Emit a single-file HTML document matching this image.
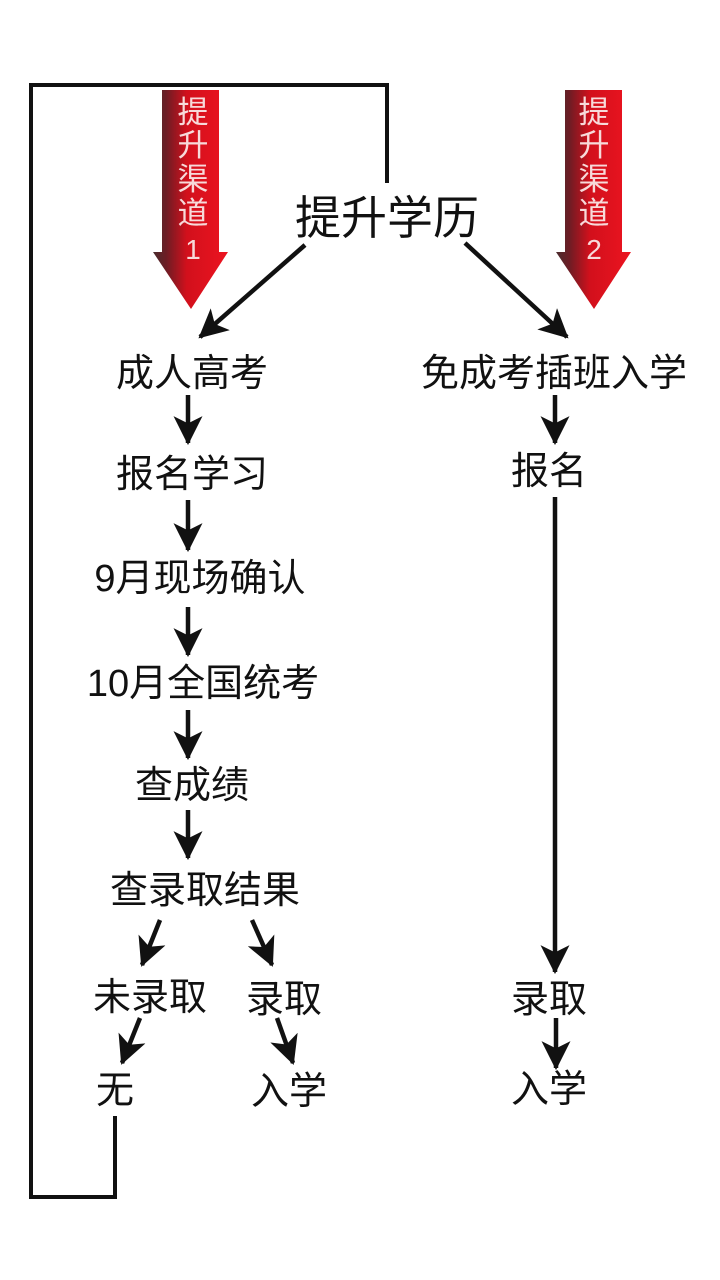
<!DOCTYPE html>
<html>
<head>
<meta charset="utf-8">
<style>
html,body{margin:0;padding:0;background:#fff;}
svg{display:block;}
text{font-family:"Liberation Sans","Noto Sans CJK SC",sans-serif;fill:#111;}
</style>
</head>
<body>
<svg width="720" height="1280" viewBox="0 0 720 1280" xmlns="http://www.w3.org/2000/svg">
  <defs>
    <marker id="ah" viewBox="0 0 28 28" refX="26" refY="14" markerWidth="29" markerHeight="29" markerUnits="userSpaceOnUse" orient="auto">
      <path d="M28,14 L0,0 L7,14 L0,28 Z" fill="#111"/>
    </marker>
    <linearGradient id="rg" x1="0" y1="0" x2="1" y2="0">
      <stop offset="0" stop-color="#4a2c2e"/>
      <stop offset="0.18" stop-color="#6e1c24"/>
      <stop offset="0.45" stop-color="#d2101c"/>
      <stop offset="1" stop-color="#ec1420"/>
    </linearGradient>
  </defs>

  <rect width="720" height="1280" fill="#fff"/>

  <!-- loop lines -->
  <polyline points="387,183 387,85 31,85 31,1197 115,1197 115,1116" fill="none" stroke="#111" stroke-width="4"/>

  <!-- red arrows -->
  <polygon points="162,90 219,90 219,252 228,252 191,309 153,252 162,252" fill="url(#rg)"/>
  <polygon points="565,90 622,90 622,252 631,252 594,309 556,252 565,252" fill="url(#rg)"/>
  <g style="font-size:31px" text-anchor="middle">
    <text x="193" y="123" style="fill:#f7dada">提</text>
    <text x="193" y="156" style="fill:#f7dada">升</text>
    <text x="193" y="190" style="fill:#f7dada">渠</text>
    <text x="193" y="224" style="fill:#f7dada">道</text>
    <text x="193" y="259" style="fill:#f7dada;font-size:28px">1</text>
    <text x="594" y="123" style="fill:#f7dada">提</text>
    <text x="594" y="156" style="fill:#f7dada">升</text>
    <text x="594" y="190" style="fill:#f7dada">渠</text>
    <text x="594" y="224" style="fill:#f7dada">道</text>
    <text x="594" y="259" style="fill:#f7dada;font-size:28px">2</text>
  </g>

  <!-- title -->
  <text x="387" y="234" text-anchor="middle" style="font-size:46px">提升学历</text>

  <!-- labels -->
  <g text-anchor="middle" style="font-size:38px">
    <text x="192" y="386">成人高考</text>
    <text x="554" y="386">免成考插班入学</text>
    <text x="192" y="487">报名学习</text>
    <text x="549" y="484">报名</text>
    <text x="200" y="591">9月现场确认</text>
    <text x="203" y="696">10月全国统考</text>
    <text x="192" y="798">查成绩</text>
    <text x="205" y="903">查录取结果</text>
    <text x="150" y="1010">未录取</text>
    <text x="284" y="1012">录取</text>
    <text x="549" y="1012">录取</text>
    <text x="115" y="1103">无</text>
    <text x="289" y="1104">入学</text>
    <text x="549" y="1102">入学</text>
  </g>

  <!-- connectors -->
  <g stroke="#111" stroke-width="4.5" fill="none" marker-end="url(#ah)">
    <line x1="305" y1="245" x2="200" y2="337"/>
    <line x1="465" y1="243" x2="567" y2="337"/>
    <line x1="188" y1="395" x2="188" y2="443"/>
    <line x1="188" y1="500" x2="188" y2="550"/>
    <line x1="188" y1="607" x2="188" y2="655"/>
    <line x1="188" y1="710" x2="188" y2="758"/>
    <line x1="188" y1="810" x2="188" y2="858"/>
    <line x1="160" y1="920" x2="142" y2="965"/>
    <line x1="252" y1="920" x2="272" y2="965"/>
    <line x1="140" y1="1018" x2="122" y2="1063"/>
    <line x1="277" y1="1018" x2="293" y2="1063"/>
    <line x1="555" y1="395" x2="555" y2="443"/>
    <line x1="555" y1="497" x2="555" y2="972"/>
    <line x1="556" y1="1018" x2="556" y2="1068"/>
  </g>
</svg>
</body>
</html>
